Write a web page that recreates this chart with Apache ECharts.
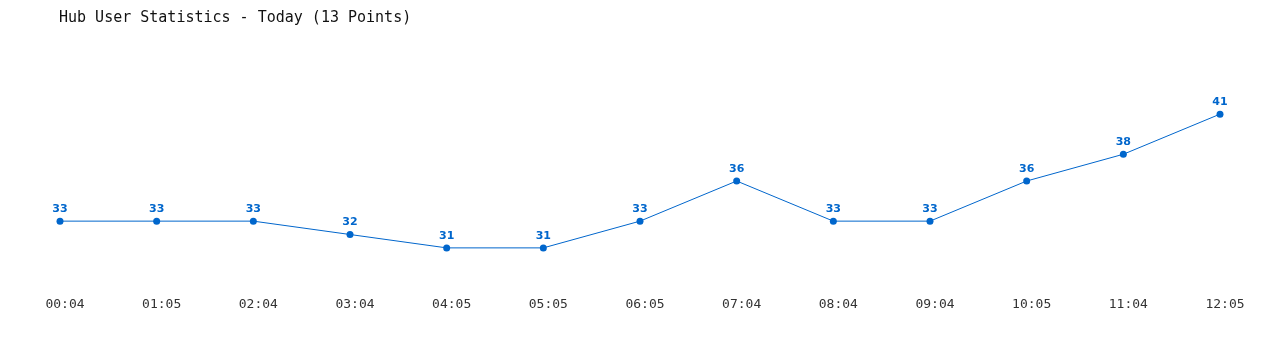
<!DOCTYPE html>
<html><head><meta charset="utf-8">
<script src="https://cdn.jsdelivr.net/npm/echarts@6/dist/echarts.min.js"></script>
<style>html,body{margin:0;padding:0;background:#fff}#c{width:1280px;height:350px}</style>
</head><body><div id="c"></div>
<script>
const categories = ["00:04","01:05","02:04","03:04","04:05","05:05","06:05","07:04","08:04","09:04","10:05","11:04","12:05"];
const users = [33,33,33,32,31,31,33,36,33,33,36,38,41];
const titleText = "Hub User Statistics - Today (13 Points)";

const chart = echarts.init(document.getElementById('c'), null, {renderer:'canvas'});
chart.setOption({
  animation: false,
  title: {
    text: titleText, left: 59, top: 11, padding: 0,
    textStyle: {fontFamily: 'DejaVu Sans Mono', fontSize: 15, fontWeight: 'normal', color: '#111'}
  },
  grid: {left: 60, right: 60, top: 74, bottom: 62},
  xAxis: {
    type: 'category', data: categories, boundaryGap: false,
    axisLine: {show: false}, axisTick: {show: false}, splitLine: {show: false},
    axisLabel: {margin: 10, padding: [0,0,0,10], fontFamily: 'DejaVu Sans Mono', fontSize: 13, color: '#333'}
  },
  yAxis: {
    type: 'value', min: 28, max: 44, show: false
  },
  series: [{
    type: 'line', data: users,
    symbol: 'circle', symbolSize: 7,
    lineStyle: {color: '#0066cc', width: 1},
    itemStyle: {color: '#0066cc'},
    label: {show: true, position: 'top', distance: 3, color: '#0066cc',
      fontFamily: 'DejaVu Sans', fontWeight: 'bold', fontSize: 11}
  }]
});
</script></body></html>
